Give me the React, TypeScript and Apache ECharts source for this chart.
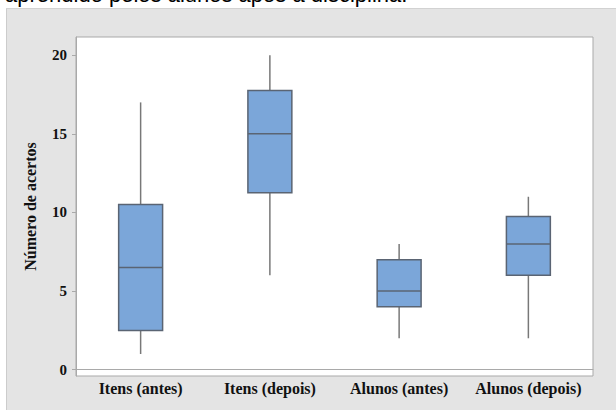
import React, { useEffect, useRef } from "react";
import * as echarts from "echarts";

const titleText = "aprendido pelos alunos após a disciplina.";
const categories = ["Itens (antes)", "Itens (depois)", "Alunos (antes)", "Alunos (depois)"];
const mins = [1, 6, 2, 2];
const q1s = [2.5, 11.25, 4, 6];
const medians = [6.5, 15, 5, 8];
const q3s = [10.5, 17.75, 7, 9.75];
const maxs = [17, 20, 8, 11];
const yTicks = [0, 5, 10, 15, 20];
const yAxisName = "Número de acertos";

export default function App() {
  const ref = useRef<HTMLDivElement>(null);
  useEffect(() => {
    document.body.style.margin = "0";
    const chart = echarts.init(ref.current!, null, { renderer: "svg" });
    const data = categories.map((_, i) => [i, mins[i], q1s[i], medians[i], q3s[i], maxs[i]]);
    const serif = "'Liberation Serif', 'Times New Roman', serif";
    chart.setOption({
      animation: false,
      backgroundColor: "#e4e4e4",
      graphic: [
        { type: "rect", z: 100, shape: { x: 0, y: 0, width: 616, height: 8 }, style: { fill: "#ffffff" } },
        { type: "rect", z: 100, shape: { x: 0, y: 0, width: 6, height: 410 }, style: { fill: "#ffffff" } },
        { type: "line", z: 100, shape: { x1: 6.5, y1: 8, x2: 6.5, y2: 410 }, style: { stroke: "#cccccc", lineWidth: 1 } },
        { type: "line", z: 100, shape: { x1: 6, y1: 8.5, x2: 616, y2: 8.5 }, style: { stroke: "#d2d2d2", lineWidth: 1 } },
        {
          type: "text",
          z: 101,
          x: 5,
          y: -6,
          style: {
            text: titleText,
            fill: "#000000",
            font: "22px 'Liberation Sans', Arial, sans-serif",
            verticalAlign: "middle",
            align: "left",
          },
        },
      ],
      grid: {
        left: 76,
        top: 37,
        right: 23,
        bottom: 34,
        show: true,
        backgroundColor: "#ffffff",
        borderColor: "#a9a9a9",
        borderWidth: 1,
      },
      xAxis: {
        type: "category",
        data: categories,
        axisLine: { lineStyle: { color: "#a9a9a9" } },
        axisTick: { alignWithLabel: true, length: 4, lineStyle: { color: "#a9a9a9" } },
        axisLabel: { interval: 0, color: "#111111", fontFamily: serif, fontWeight: "bold", fontSize: 16, margin: 4 },
        splitLine: { show: false },
      },
      yAxis: {
        type: "value",
        min: -0.4,
        max: 21.16,
        name: yAxisName,
        nameLocation: "middle",
        nameGap: 38,
        nameTextStyle: { color: "#111111", fontFamily: serif, fontWeight: "bold", fontSize: 16 },
        axisLine: { show: true, lineStyle: { color: "#a9a9a9" } },
        axisTick: { show: true, length: 4, customValues: yTicks, lineStyle: { color: "#a9a9a9" } },
        axisLabel: { color: "#111111", fontFamily: serif, fontWeight: "bold", fontSize: 15, margin: 9, customValues: yTicks },
        splitLine: { show: false },
      },
      series: [
        {
          type: "custom",
          data,
          encode: { x: 0, y: [1, 2, 3, 4, 5] },
          renderItem: (params: any, api: any) => {
            const xi = api.value(0);
            const pMin = api.coord([xi, api.value(1)]);
            const pQ1 = api.coord([xi, api.value(2)]);
            const pMed = api.coord([xi, api.value(3)]);
            const pQ3 = api.coord([xi, api.value(4)]);
            const pMax = api.coord([xi, api.value(5)]);
            const bw = api.size([1, 0])[0] * 0.34;
            const cx = pMed[0];
            const whisker = { stroke: "#787878", lineWidth: 1.5 };
            return {
              type: "group",
              children: [
                { type: "line", shape: { x1: cx, y1: pMax[1], x2: cx, y2: pQ3[1] }, style: whisker },
                { type: "line", shape: { x1: cx, y1: pQ1[1], x2: cx, y2: pMin[1] }, style: whisker },
                {
                  type: "rect",
                  shape: { x: cx - bw / 2, y: pQ3[1], width: bw, height: pQ1[1] - pQ3[1] },
                  style: { fill: "#7ba6d9", stroke: "#5a6473", lineWidth: 1.5 },
                },
                {
                  type: "line",
                  shape: { x1: cx - bw / 2, y1: pMed[1], x2: cx + bw / 2, y2: pMed[1] },
                  style: { stroke: "#5a6473", lineWidth: 1.5 },
                },
              ],
            };
          },
        },
      ],
    });
    return () => chart.dispose();
  }, []);
  return <div ref={ref} style={{ position: "absolute", left: 0, top: 0, width: 616, height: 410 }} />;
}
